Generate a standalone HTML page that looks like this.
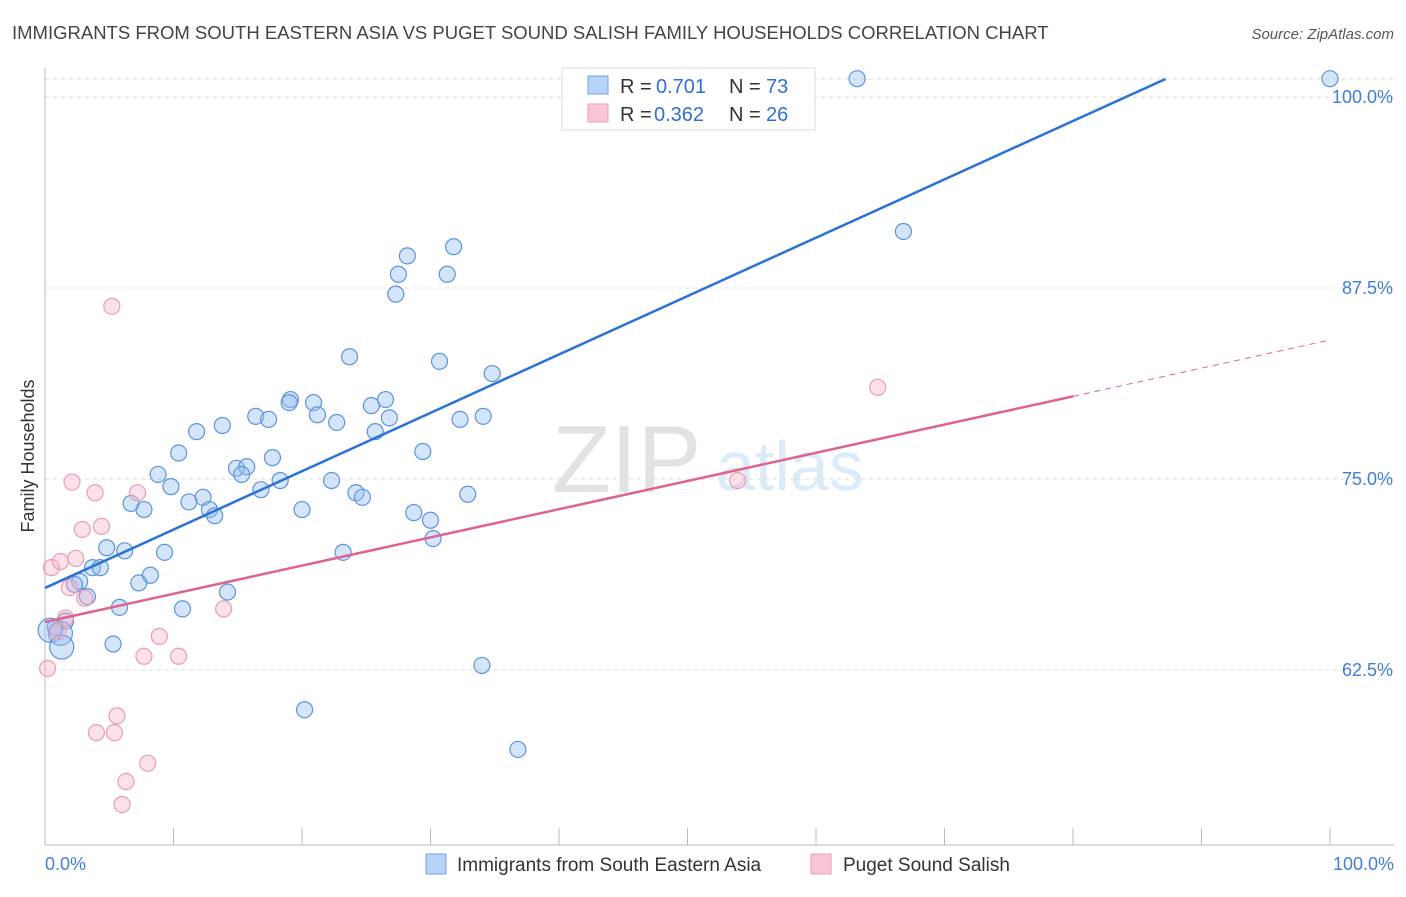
<!DOCTYPE html>
<html><head><meta charset="utf-8"><style>
body{margin:0;background:#fff;font-family:"Liberation Sans",sans-serif;}
svg text{font-family:"Liberation Sans",sans-serif;}
</style></head><body>
<svg id="chart" width="1406" height="892" xmlns="http://www.w3.org/2000/svg">
<text x="12" y="39" font-size="18.5" fill="#444">IMMIGRANTS FROM SOUTH EASTERN ASIA VS PUGET SOUND SALISH FAMILY HOUSEHOLDS CORRELATION CHART</text>
<text x="1394" y="39" font-size="15" fill="#555" text-anchor="end" font-style="italic">Source: ZipAtlas.com</text>
<g opacity="0.18"><text x="552" y="492" font-size="96" fill="#666" font-family="Liberation Serif">ZIP</text><text x="716" y="490" font-size="70" fill="#4a8fd8">atlas</text></g>
<g id="grid"></g><g id="axes"></g><g id="marks"></g>
<text transform="translate(34,456) rotate(-90)" font-size="18" fill="#333" text-anchor="middle">Family Households</text>
<g>
<rect x="562" y="68" width="253" height="62" fill="#fff" stroke="#ddd"/>
<rect x="588" y="76" width="20" height="18" fill="#b7d3f5" stroke="#6fa3e6"/>
<rect x="588" y="104" width="20" height="18" fill="#f9c6d6" stroke="#ef9ab5"/>
<text x="620" y="93" font-size="20" fill="#333">R =</text><text x="656" y="93" font-size="20" fill="#2f6fd6">0.701</text>
<text x="729" y="93" font-size="20" fill="#333">N =</text><text x="766" y="93" font-size="20" fill="#2f6fd6">73</text>
<text x="620" y="121" font-size="20" fill="#333">R =</text><text x="654" y="121" font-size="20" fill="#2f6fd6">0.362</text>
<text x="729" y="121" font-size="20" fill="#333">N =</text><text x="766" y="121" font-size="20" fill="#2f6fd6">26</text>
</g>
<g>
<rect x="426" y="854" width="20" height="20" fill="#b7d3f5" stroke="#6fa3e6"/>
<text x="457" y="871" font-size="19" fill="#333">Immigrants from South Eastern Asia</text>
<rect x="811" y="854" width="20" height="20" fill="#f9c6d6" stroke="#ef9ab5"/>
<text x="843" y="871" font-size="19" fill="#333">Puget Sound Salish</text>
</g>
</svg>
<script>
const blueX=[63.2,100,66.8,31.8,28.2,27.5,31.3,27.3,23.7,30.7,34.8,19.1,20.9,26.5,19.0,25.4,21.2,16.4,17.4,22.7,26.8,32.3,34.1,13.8,25.7,11.8,10.4,29.4,17.7,14.9,15.7,8.8,15.3,9.8,18.3,22.3,16.8,24.2,32.9,12.3,24.7,6.7,11.2,7.7,12.8,20.0,13.2,28.7,30.0,30.2,4.8,6.2,9.3,23.2,3.7,4.3,8.2,2.7,2.3,7.3,14.2,3.3,5.8,10.7,1.6,0.8,1.2,0.4,5.3,1.3,34.0,20.2,36.8];
const blueY=[101.2,101.2,91.2,90.2,89.6,88.4,88.4,87.1,83.0,82.7,81.9,80.2,80.0,80.2,80.0,79.8,79.2,79.1,78.9,78.7,79.0,78.9,79.1,78.5,78.1,78.1,76.7,76.8,76.4,75.7,75.8,75.3,75.3,74.5,74.9,74.9,74.3,74.1,74.0,73.8,73.8,73.4,73.5,73.0,73.0,73.0,72.6,72.8,72.3,71.1,70.5,70.3,70.2,70.2,69.2,69.2,68.7,68.3,68.1,68.2,67.6,67.3,66.6,66.5,65.7,65.3,64.9,65.1,64.2,64.0,62.8,59.9,57.3];
const blueBig=[66,67,69];
const pinkX=[5.2,64.8,53.9,2.1,3.9,7.2,4.4,2.9,0.5,1.2,2.4,1.9,3.1,13.9,1.6,1.0,8.9,7.7,10.4,0.2,5.6,4.0,5.4,8.0,6.3,6.0];
const pinkY=[86.3,81.0,74.9,74.8,74.1,74.1,71.9,71.7,69.2,69.6,69.8,67.9,67.2,66.5,65.9,65.0,64.7,63.4,63.4,62.6,59.5,58.4,58.4,56.4,55.2,53.7];
const blueLine=[67.87,106.07,87.2];
const pinkLine=[65.64,84.1,80];
const yTicks=[100,87.5,75,62.5];
const yTickLabels=["100.0%","87.5%","75.0%","62.5%"];
const NS="http://www.w3.org/2000/svg";
const sx=v=>45+v*12.85, sy=v=>97+(100-v)*15.28;
function mk(tag,attrs,parent){const e=document.createElementNS(NS,tag);for(const k in attrs)e.setAttribute(k,attrs[k]);document.getElementById(parent).appendChild(e);return e;}
yTicks.forEach((t,i)=>{
 const g=mk('line',{x1:45,x2:1394,y1:sy(t),y2:sy(t),stroke:'#ddd','stroke-dasharray':'4,4'},'grid');
 
 
 const l=mk('text',{x:1393,y:sy(t)+6,'font-size':18,fill:'#3f7fd8','text-anchor':'end'},'axes');
 l.textContent=yTickLabels[i];
 
 
});
const topGrid=mk('line',{x1:45,x2:1394,y1:79,y2:79,stroke:'#ddd','stroke-dasharray':'4,4'},'grid');


const ya=mk('line',{x1:45,x2:45,y1:68,y2:845,stroke:'#bbb'},'axes');


const xa=mk('line',{x1:45,x2:1394,y1:845,y2:845,stroke:'#bbb'},'axes');


for(let i=0;i<=10;i++){const t=mk('line',{x1:sx(i*10),x2:sx(i*10),y1:828,y2:845,stroke:'#bbb'},'axes');
 
 }
[[0,"0.0%","start",45],[100,"100.0%","end",1394]].forEach(a=>{const t=mk('text',{x:a[3],y:870,'font-size':18,fill:'#3f7fd8','text-anchor':a[2]},'axes');t.textContent=a[1];
 
 });
blueX.forEach((x,i)=>{const c=mk('circle',{cx:sx(x),cy:sy(blueY[i]),r:blueBig.includes(i)?12:8,fill:'rgba(150,190,240,0.4)',stroke:'#5b93dd','stroke-width':1.2},'marks');
 
 });
pinkX.forEach((x,i)=>{const c=mk('circle',{cx:sx(x),cy:sy(pinkY[i]),r:8,fill:'rgba(245,180,200,0.4)',stroke:'#ee9ab4','stroke-width':1.2},'marks');
 
 });
const bl=mk('line',{x1:sx(0),y1:sy(blueLine[0]),x2:sx(blueLine[2]),y2:sy(blueLine[0]+(blueLine[1]-blueLine[0])*blueLine[2]/100),stroke:'#2a72d6','stroke-width':2.5},'marks');


const pAt=v=>pinkLine[0]+(pinkLine[1]-pinkLine[0])*v/100;
const pl=mk('line',{x1:sx(0),y1:sy(pAt(0)),x2:sx(pinkLine[2]),y2:sy(pAt(pinkLine[2])),stroke:'#e0628f','stroke-width':2.5},'marks');


const pd=mk('line',{x1:sx(pinkLine[2]),y1:sy(pAt(pinkLine[2])),x2:sx(100),y2:sy(pAt(100)),stroke:'#e0628f','stroke-width':1,'stroke-dasharray':'6,5'},'marks');


</script>
</body></html>
